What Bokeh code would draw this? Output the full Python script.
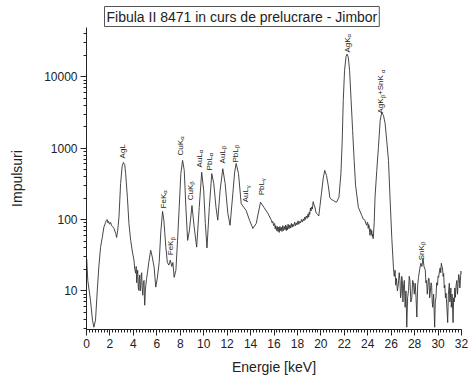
import math
from bokeh.plotting import figure
from bokeh.models import FixedTicker, NumeralTickFormatter, Range1d
from bokeh.core.properties import value
from bokeh.embed import file_html
from bokeh.resources import INLINE

# ---------------- data ----------------
# each line of energy_kev matches the same line of impulses
energy_kev = [
    0.02, 0.11, 0.34, 0.51, 0.63, 0.77, 0.92, 1.05, 1.20, 1.35,
    1.48, 1.63, 1.70, 1.77, 1.83, 1.89, 1.96, 2.06, 2.14, 2.23,
    2.34, 2.49, 2.57, 2.66, 2.77, 2.91, 3.04, 3.14, 3.26, 3.34,
    3.49, 3.62, 3.77, 3.92, 4.05, 4.12, 4.20, 4.24, 4.28, 4.33,
    4.37, 4.42, 4.46, 4.50, 4.54, 4.58, 4.63, 4.67, 4.71, 4.75,
    4.80, 4.85, 4.91, 4.94, 4.97, 5.02, 5.06, 5.13, 5.20, 5.31,
    5.48, 5.61, 5.77, 5.91, 6.04, 6.20, 6.34, 6.49, 6.60, 6.77,
    6.90, 7.03, 7.15, 7.28, 7.37, 7.48, 7.63, 7.77, 7.91, 8.05,
    8.20, 8.34, 8.48, 8.63, 8.78, 9.00, 9.19, 9.40, 9.62, 9.83,
    10.00, 10.14, 10.28, 10.48, 10.69, 10.86, 11.05, 11.20, 11.40, 11.63,
    11.83, 12.06, 12.25, 12.49, 12.64, 12.77, 12.97, 13.20, 13.43, 13.62,
    13.91, 14.20, 14.48, 14.85, 15.14, 15.48, 15.77, 15.84, 15.90, 15.97,
    16.05, 16.10, 16.15, 16.22, 16.28, 16.34, 16.40, 16.45, 16.50, 16.56,
    16.62, 16.68, 16.75, 16.81, 16.88, 16.94, 17.00, 17.05, 17.10, 17.15,
    17.20, 17.28, 17.35, 17.42, 17.48, 17.54, 17.60, 17.68, 17.76, 17.83,
    17.90, 17.97, 18.05, 18.12, 18.20, 18.27, 18.34, 18.42, 18.50, 18.56,
    18.62, 18.68, 18.75, 18.83, 18.91, 18.96, 19.00, 19.05, 19.11, 19.16,
    19.20, 19.27, 19.34, 19.42, 19.49, 19.55, 19.62, 19.72, 19.82, 20.05,
    20.20, 20.33, 20.48, 20.63, 20.76, 20.90, 21.05, 21.20, 21.34, 21.54,
    21.71, 21.82, 21.91, 22.02, 22.15, 22.24, 22.34, 22.45, 22.58, 22.71,
    22.84, 22.96, 23.20, 23.48, 23.60, 23.76, 23.83, 23.91, 23.96, 24.00,
    24.04, 24.08, 24.12, 24.16, 24.19, 24.23, 24.27, 24.31, 24.34, 24.38,
    24.42, 24.46, 24.48, 24.55, 24.62, 24.77, 24.91, 25.06, 25.19, 25.34,
    25.48, 25.62, 25.77, 25.90, 26.05, 26.19, 26.26, 26.33, 26.39, 26.45,
    26.53, 26.62, 26.68, 26.75, 26.80, 26.85, 26.90, 26.95, 27.00, 27.05,
    27.12, 27.19, 27.26, 27.33, 27.40, 27.48, 27.54, 27.60, 27.68, 27.76,
    27.83, 27.90, 27.97, 28.05, 28.12, 28.19, 28.26, 28.33, 28.43, 28.53,
    28.62, 28.71, 28.80, 28.91, 28.96, 29.02, 29.08, 29.13, 29.18, 29.23,
    29.28, 29.33, 29.40, 29.45, 29.50, 29.54, 29.62, 29.71, 29.76, 29.82,
    29.88, 29.95, 30.00, 30.05, 30.12, 30.18, 30.23, 30.28, 30.33, 30.38,
    30.43, 30.48, 30.53, 30.58, 30.63, 30.68, 30.75, 30.82, 30.88, 30.96,
    31.00, 31.05, 31.09, 31.13, 31.20, 31.28, 31.33, 31.38, 31.43, 31.48,
    31.54, 31.60, 31.66, 31.71, 31.76, 31.80, 31.86, 31.91, 31.96, 32.00,
]
impulses = [
    28, 14, 7.4, 3.9, 3.1, 3.9, 10.2, 21.5, 40.8, 56.5,
    78, 91, 98, 100, 90, 94, 86, 91, 82, 80,
    75, 64, 56, 70, 107, 320, 555, 630, 590, 440,
    205, 88, 51, 35, 27, 20, 17.7, 22, 13, 17,
    19.5, 11, 10.2, 15, 16.6, 10, 12, 17, 18, 11,
    8.7, 13, 14, 8, 6.3, 10, 12, 15, 17.7, 25,
    37, 30, 21.5, 11.3, 15, 25, 67, 130, 98, 41,
    25, 23, 27, 22, 25, 15.5, 19.5, 51, 148, 440,
    673, 488, 148, 51, 70, 157, 78, 41, 148, 460,
    255, 88, 40, 148, 440, 320, 148, 98, 255, 515,
    320, 122, 83, 233, 460, 610, 440, 167, 148, 134,
    98, 75, 88, 175, 148, 122, 98, 90, 94, 82,
    88, 74, 82, 70, 80, 68, 78, 66, 80, 70,
    78, 68, 82, 70, 80, 72, 84, 70, 80, 72,
    86, 74, 84, 76, 88, 78, 86, 80, 92, 82,
    90, 84, 96, 86, 94, 90, 100, 92, 102, 96,
    108, 100, 112, 104, 120, 108, 126, 118, 145, 132,
    150, 140, 178, 160, 150, 132, 122, 118, 112, 233,
    380, 488, 415, 300, 205, 190, 186, 178, 175, 205,
    440, 1270, 4650, 12300, 19300, 20700, 18700, 12300, 4650, 1760,
    673, 300, 148, 115, 102, 98, 88, 83, 92, 90,
    75, 85, 80, 66, 60, 74, 72, 62, 70, 58,
    62, 54, 58, 90, 205, 488, 1020, 2440, 3150, 2870,
    2230, 1270, 673, 205, 56, 21.5, 16, 19.5, 12, 15,
    10, 12.8, 18, 14, 8, 9.3, 16, 14, 7, 11.3,
    14, 5.9, 10, 3.1, 8, 10.2, 16, 14, 7, 8.1,
    14, 13, 9, 12.8, 8, 4.3, 12, 15.5, 20, 24.4,
    22, 28.7, 22, 19.5, 13, 14, 9, 11.3, 15, 15,
    8, 9.3, 13, 12, 7, 5.9, 9, 3.1, 7, 8.1,
    13, 12, 16, 15.5, 19, 21, 18, 24.4, 22, 21,
    16, 17.5, 11, 12, 8, 9.3, 6, 3.6, 9, 12.8,
    7, 8, 11, 5.9, 9, 3.6, 8, 7, 11, 8.1,
    12, 14, 9, 12.8, 17, 16, 11, 14, 19, 17,
]

# peak annotations ("_" marks a subscript character)
peak_labels = ["AgL", "FeK_α", "FeK_β", "CuK_α", "CuK_β", "AuL_α", "PbL_α", "AuL_β",
               "PbL_β", "AuL_γ", "PbL_γ", "AgK_α", "AgK_β +SnK_α", "SnK_β"]
peak_energy = [3.04, 6.53, 7.17, 8.02, 8.87, 9.64, 10.49, 11.60,
               12.71, 13.57, 14.93, 22.24, 25.09, 28.56]
peak_counts = [718, 143, 31.6, 791, 186, 537, 488, 611,
               630, 174, 218, 21800, 3060, 26.9]

y_ticks = [10, 100, 1000, 10000]
x_ticks = list(range(0, 33, 2))

TITLE = "Fibula II 8471 in curs de prelucrare - Jimbor"
FONT = "Liberation Sans"

# ---------------- figure ----------------
p = figure(width=470, height=379, output_backend="svg", toolbar_location=None,
           y_axis_type="log", x_range=Range1d(0, 32), y_range=Range1d(2.88, 49000),
           min_border_left=86, min_border_right=9, min_border_top=27, min_border_bottom=50)

p.title.text = TITLE
p.title.text_font = FONT
p.title.text_font_size = "14px"
p.title.text_font_style = "normal"
p.title.text_color = "#222222"
p.title.align = "left"
p.title.offset = 18
p.title.standoff = 2
p.title.border_line_color = "#555555"
p.title.border_line_width = 1
p.title.background_fill_color = "white"
p.title.padding = 2

p.xgrid.visible = False
p.ygrid.visible = False
p.outline_line_color = None
p.background_fill_color = "white"
p.border_fill_color = "white"

p.line(energy_kev, impulses, line_color="#333333", line_width=0.9)

# ---- rotated peak labels with subscripts ----
W = {"A": .667, "g": .556, "L": .556, "F": .611, "e": .556, "K": .667, "C": .722,
     "u": .556, "P": .667, "b": .556, "S": .667, "n": .556, " ": .278, "+": .584,
     "α": .578, "β": .575, "γ": .5}
MAIN_FS, SUB_FS = 8.0, 6.0
mx, my, mt, moff = [], [], [], []
sx, sy, st, soff = [], [], [], []
for lab, ex, cy in zip(peak_labels, peak_energy, peak_counts):
    off = 0.0
    i = 0
    buf = ""
    segs = []
    while i < len(lab):
        if lab[i] == "_":
            if buf:
                segs.append((buf, False)); buf = ""
            segs.append((lab[i + 1], True)); i += 2
        else:
            buf += lab[i]; i += 1
    if buf:
        segs.append((buf, False))
    for txt, sub in segs:
        if sub:
            sx.append(ex); sy.append(cy); st.append(txt); soff.append(-off)
            off += sum(W.get(c, .55) for c in txt) * SUB_FS
        else:
            mx.append(ex); my.append(cy); mt.append(txt); moff.append(-off)
            off += sum(W.get(c, .55) for c in txt) * MAIN_FS

p.text(x=mx, y=my, text=mt, y_offset=moff, angle=math.pi / 2,
       text_font=value(FONT), text_font_size="8px", text_align="left",
       text_baseline="middle", text_color="#1a1a1a")
p.text(x=sx, y=sy, text=st, y_offset=soff, x_offset=2, angle=math.pi / 2,
       text_font=value(FONT), text_font_size="6px", text_align="left",
       text_baseline="middle", text_color="#1a1a1a")

# ---- axes ----
p.xaxis.ticker = FixedTicker(ticks=x_ticks,
                             minor_ticks=[i * 0.25 for i in range(0, 129)])
p.yaxis.ticker = FixedTicker(ticks=y_ticks,
                             minor_ticks=[m * d for d in (1, 10, 100, 1000, 10000) for m in range(2, 10)])
p.yaxis.formatter = NumeralTickFormatter(format="0")

for ax in (p.xaxis[0], p.yaxis[0]):
    ax.axis_line_color = "#222222"
    ax.major_tick_line_color = "#222222"
    ax.minor_tick_line_color = "#222222"
    ax.major_tick_in = 0
    ax.major_tick_out = 6
    ax.minor_tick_in = 0
    ax.minor_tick_out = 3
    ax.major_label_text_font = FONT
    ax.major_label_text_font_size = "12px"
    ax.major_label_text_color = "#222222"
    ax.axis_label_text_font = FONT
    ax.axis_label_text_font_size = "14px"
    ax.axis_label_text_font_style = "normal"
    ax.axis_label_text_color = "#222222"

p.xaxis.axis_label = "Energie [keV]"
p.yaxis.axis_label = "Impulsuri"
p.xaxis.major_label_standoff = 3
p.yaxis.major_label_standoff = 3
p.xaxis.axis_label_standoff = 8
p.yaxis.axis_label_standoff = 16

open("out.html", "w").write(file_html(p, INLINE))
